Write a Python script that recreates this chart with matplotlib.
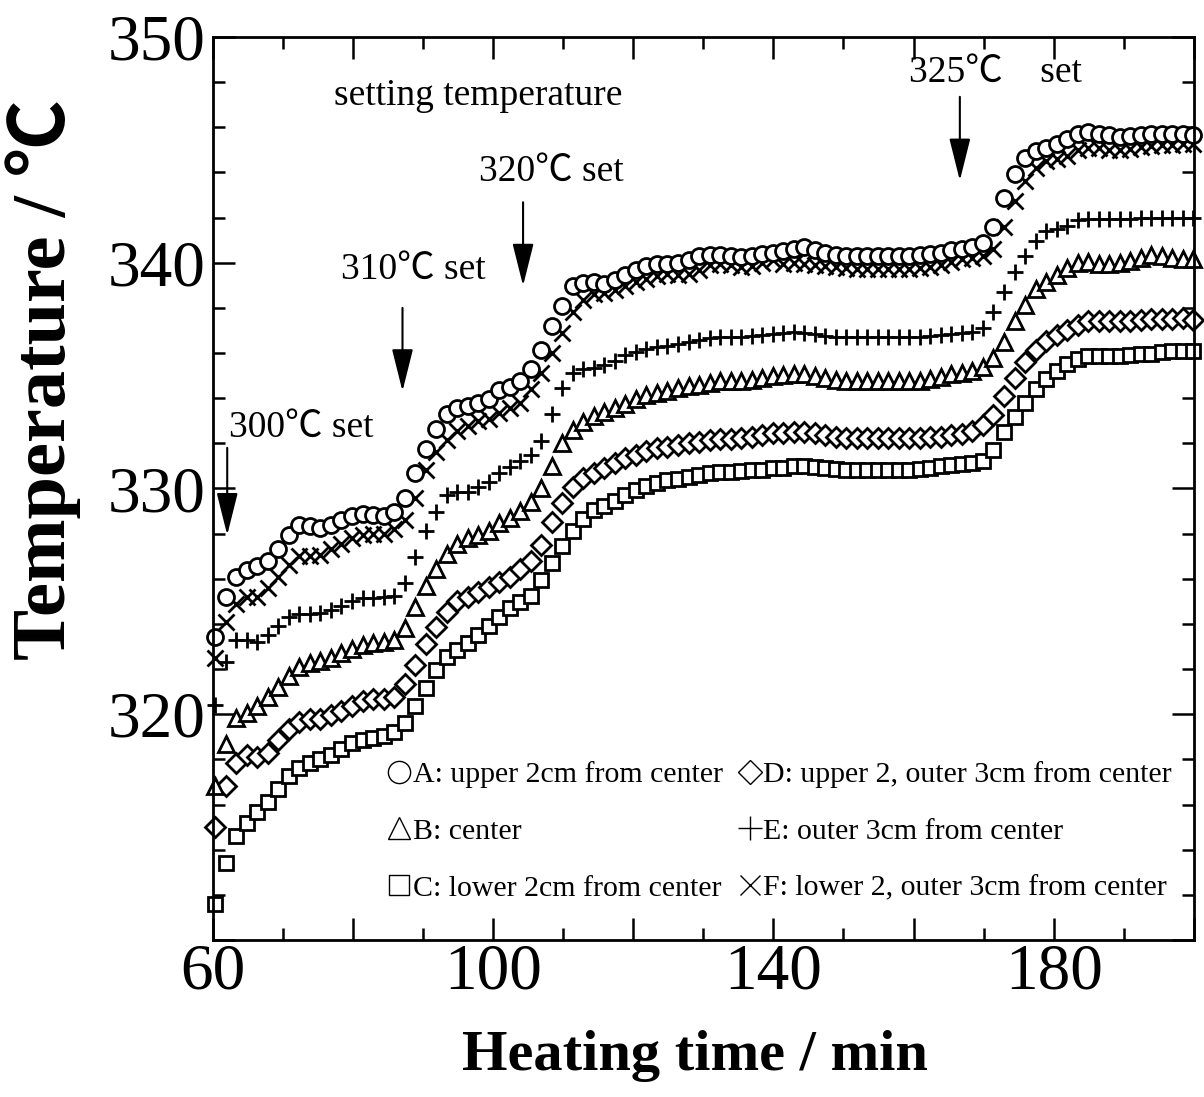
import matplotlib
matplotlib.use('Agg')
import matplotlib.pyplot as plt
from matplotlib.lines import Line2D
from matplotlib.ticker import MultipleLocator, FixedLocator, FixedFormatter

plt.rcParams['font.family'] = ['Liberation Serif', 'Noto Sans CJK JP']

# ---------------- data ----------------
time = [60.4, 61.9, 63.4, 64.9, 66.4, 67.9, 69.4, 70.9, 72.4, 73.9,
        75.4, 76.9, 78.4, 79.9, 81.4, 82.9, 84.4, 85.9, 87.4, 88.9,
        90.4, 91.9, 93.4, 94.9, 96.4, 97.9, 99.4, 100.9, 102.4, 103.9,
        105.4, 106.9, 108.4, 109.9, 111.4, 112.9, 114.4, 115.9, 117.4, 118.9,
        120.4, 121.9, 123.4, 124.9, 126.4, 127.9, 129.4, 130.9, 132.4, 133.9,
        135.4, 136.9, 138.4, 139.9, 141.4, 142.9, 144.4, 145.9, 147.4, 148.9,
        150.4, 151.9, 153.4, 154.9, 156.4, 157.9, 159.4, 160.9, 162.4, 163.9,
        165.4, 166.9, 168.4, 169.9, 171.4, 172.9, 174.4, 175.9, 177.4, 178.9,
        180.4, 181.9, 183.4, 184.9, 186.4, 187.9, 189.4, 190.9, 192.4, 193.9,
        195.4, 196.9, 198.4, 199.9]

A_upper = [323.4, 325.2, 326.1, 326.4, 326.55, 326.8, 327.3, 327.95, 328.4, 328.35,
           328.25, 328.4, 328.6, 328.8, 328.85, 328.82, 328.78, 328.97, 329.6, 330.7,
           331.75, 332.65, 333.3, 333.56, 333.64, 333.78, 333.95, 334.35, 334.5, 334.75,
           335.3, 336.15, 337.2, 338.1, 338.95, 339.12, 339.13, 339.08, 339.22, 339.45,
           339.7, 339.86, 339.94, 339.94, 340.0, 340.13, 340.3, 340.36, 340.36, 340.31,
           340.27, 340.31, 340.39, 340.45, 340.52, 340.62, 340.68, 340.58, 340.42, 340.33,
           340.31, 340.3, 340.3, 340.3, 340.3, 340.3, 340.32, 340.35, 340.4, 340.45,
           340.55, 340.62, 340.7, 340.88, 341.6, 342.85, 343.95, 344.65, 344.95, 345.1,
           345.27, 345.47, 345.7, 345.79, 345.7, 345.64, 345.57, 345.6, 345.64, 345.7,
           345.72, 345.72, 345.7, 345.65]

B_center = [316.8, 318.7, 319.85, 320.05, 320.35, 320.75, 321.2, 321.7, 322.1, 322.28,
            322.36, 322.5, 322.72, 322.9, 323.05, 323.15, 323.18, 323.3, 323.8, 324.75,
            325.7, 326.45, 327.1, 327.55, 327.8, 327.95, 328.1, 328.45, 328.7, 329.0,
            329.4, 330.0, 331.0, 332.0, 332.6, 332.95, 333.2, 333.38, 333.56, 333.75,
            333.95, 334.12, 334.25, 334.33, 334.46, 334.53, 334.6, 334.68, 334.75, 334.76,
            334.76, 334.82, 334.9, 334.97, 335.02, 335.05, 335.05, 335.0, 334.88, 334.8,
            334.76, 334.76, 334.76, 334.76, 334.76, 334.76, 334.76, 334.78, 334.85, 334.95,
            335.05, 335.12, 335.2, 335.38, 335.8, 336.5, 337.4, 338.15, 338.85, 339.15,
            339.45, 339.75, 339.98, 340.02, 339.96, 339.94, 340.0, 340.06, 340.22, 340.36,
            340.3, 340.2, 340.18, 340.16]

C_lower = [311.6, 313.4, 314.6, 315.2, 315.65, 316.1, 316.7, 317.25, 317.62, 317.85,
           318.0, 318.2, 318.45, 318.72, 318.88, 318.97, 319.05, 319.2, 319.6, 320.35,
           321.15, 321.95, 322.55, 322.85, 323.15, 323.5, 323.9, 324.3, 324.7, 324.98,
           325.25, 325.95, 326.68, 327.45, 328.1, 328.65, 329.05, 329.22, 329.45, 329.72,
           329.95, 330.1, 330.26, 330.37, 330.44, 330.52, 330.6, 330.67, 330.72, 330.75,
           330.78, 330.8, 330.83, 330.89, 330.93, 330.98, 330.98, 330.95, 330.9, 330.86,
           330.83, 330.83, 330.83, 330.83, 330.83, 330.83, 330.83, 330.86, 330.92, 330.98,
           331.05, 331.1, 331.15, 331.22, 331.72, 332.5, 333.15, 333.8, 334.4, 334.87,
           335.2, 335.5, 335.73, 335.86, 335.87, 335.87, 335.87, 335.9, 335.94, 335.98,
           336.05, 336.08, 336.09, 336.09]

D_upper_outer = [315.0, 316.8, 317.85, 318.2, 318.1, 318.3, 318.85, 319.35, 319.65, 319.78,
                 319.8, 319.95, 320.15, 320.38, 320.58, 320.67, 320.68, 320.78, 321.35, 322.2,
                 323.1, 323.85, 324.55, 325.0, 325.2, 325.4, 325.62, 325.85, 326.1, 326.42,
                 326.8, 327.5, 328.53, 329.35, 330.05, 330.45, 330.7, 330.93, 331.15, 331.33,
                 331.48, 331.64, 331.79, 331.86, 331.93, 332.0, 332.08, 332.15, 332.18, 332.2,
                 332.23, 332.28, 332.38, 332.45, 332.48, 332.5, 332.5, 332.45, 332.35, 332.27,
                 332.24, 332.24, 332.24, 332.24, 332.24, 332.24, 332.24, 332.25, 332.27, 332.3,
                 332.35, 332.42, 332.55, 332.8, 333.25, 334.1, 334.9, 335.6, 336.12, 336.55,
                 336.8, 337.0, 337.25, 337.42, 337.42, 337.4, 337.4, 337.42, 337.48, 337.52,
                 337.52, 337.5, 337.56, 337.45]

E_outer = [320.4, 322.3, 323.3, 323.3, 323.2, 323.5, 323.9, 324.3, 324.42, 324.44,
           324.48, 324.6, 324.8, 325.0, 325.15, 325.15, 325.2, 325.25, 325.8, 326.95,
           328.1, 328.95, 329.7, 329.84, 329.85, 330.05, 330.3, 330.7, 330.95, 331.2,
           331.5, 332.1, 333.3, 334.45, 335.1, 335.3, 335.35, 335.45, 335.65, 335.9,
           336.05, 336.18, 336.25, 336.32, 336.4, 336.5, 336.6, 336.68, 336.7, 336.7,
           336.7, 336.74, 336.8, 336.84, 336.9, 336.92, 336.9, 336.85, 336.75, 336.7,
           336.7, 336.7, 336.7, 336.7, 336.7, 336.7, 336.7, 336.72, 336.75, 336.8,
           336.85, 336.9, 336.95, 337.1, 337.8, 338.7, 339.6, 340.3, 340.95, 341.4,
           341.5, 341.62, 341.9, 341.95, 341.95, 341.95, 341.95, 341.95, 341.97, 342.0,
           342.0, 342.0, 342.0, 342.0]

F_lower_outer = [322.5, 324.1, 324.9, 325.2, 325.2, 325.6, 326.1, 326.6, 327.0, 327.0,
                 327.05, 327.3, 327.55, 327.8, 327.95, 328.0, 328.0, 328.2, 328.6, 329.6,
                 330.8, 331.6, 332.15, 332.55, 332.75, 333.0, 333.1, 333.35, 333.55, 333.8,
                 334.4, 335.1, 336.0, 336.9, 337.8, 338.35, 338.6, 338.68, 338.8, 338.95,
                 339.15, 339.3, 339.4, 339.5, 339.45, 339.5, 339.7, 339.9, 339.95, 339.9,
                 339.82, 339.85, 339.98, 340.1, 339.95, 340.0, 339.95, 339.9, 339.85, 339.8,
                 339.75, 339.72, 339.72, 339.72, 339.72, 339.72, 339.72, 339.75, 339.8, 339.9,
                 340.05, 340.15, 340.2, 340.3, 340.6, 341.6, 342.75, 343.6, 344.2, 344.5,
                 344.6, 344.75, 345.0, 345.1, 345.1, 345.0, 344.98, 345.05, 345.12, 345.15,
                 345.2, 345.22, 345.25, 345.27]

labels = ['A: upper 2cm from center', 'B: center', 'C: lower 2cm from center',
          'D: upper 2, outer 3cm from center', 'E: outer 3cm from center',
          'F: lower 2, outer 3cm from center']

x_ticks_major = [60, 80, 100, 120, 140, 160, 180, 200]
x_tick_labels = ['60', '', '100', '', '140', '', '180', '']
y_ticks_major = [310, 320, 330, 340, 350]
y_tick_labels = ['', '320', '330', '340', '350']

# annotations: (label, x, y) and arrows: (x, y_tail, y_tip)
notes = [('setting temperature', 77.4, 346.98),
         ('300℃ set', 62.35, 332.27),
         ('310℃ set', 78.4, 339.27),
         ('320℃ set', 98.0, 343.64),
         ('325℃    set', 159.3, 348.01)]
arrows = [(62.1, 331.8, 327.94),
          (87.1, 338.0, 334.31),
          (104.3, 342.68, 338.98),
          (166.6, 347.35, 343.64)]

# ---------------- figure ----------------
fig = plt.figure(figsize=(12.04, 10.97), dpi=100)
ax = fig.add_axes([212.5 / 1204, 1 - 940 / 1097, (1194 - 212.5) / 1204, (940 - 37) / 1097])

common = dict(ls='none', mec='k', mfc='white', mew=2.0, clip_on=False)
series = [
    (F_lower_outer, 'x', 11.5),
    (E_outer, '+', 11.5),
    (D_upper_outer, 'D', 10.5),
    (C_lower, 's', 10.5),
    (B_center, '^', 11.5),
    (A_upper, 'o', 11.5),
]
for vals, m, ms in series:
    ax.plot(time, vals, marker=m, ms=ms, **common)

ax.set_xlim(60, 200)
ax.set_ylim(310, 350)

ax.xaxis.set_major_locator(FixedLocator(x_ticks_major))
ax.xaxis.set_major_formatter(FixedFormatter(x_tick_labels))
ax.xaxis.set_minor_locator(MultipleLocator(10))
ax.yaxis.set_major_locator(FixedLocator(y_ticks_major))
ax.yaxis.set_major_formatter(FixedFormatter(y_tick_labels))
ax.yaxis.set_minor_locator(MultipleLocator(2))

ax.tick_params(which='both', direction='in', top=True, right=True, width=1.8)
ax.tick_params(which='major', length=16, labelsize=47)
ax.tick_params(which='minor', length=8.5)
ax.tick_params(axis='x', which='major', pad=2)
ax.tick_params(axis='y', which='major', pad=5)
for sp in ax.spines.values():
    sp.set_linewidth(2.0)

ax.set_xlabel('Heating time / min', fontsize=42, fontweight='bold')
ax.xaxis.set_label_coords(0.492, -0.100)
ax.set_ylabel('Temperature / ℃', fontsize=55, fontweight='bold')
ax.yaxis.set_label_coords(-0.134, 0.62)

for txt, x, y in notes:
    ax.text(x, y, txt, fontsize=27, va='baseline', ha='left')
for x, y0, y1 in arrows:
    ax.annotate('', xy=(x, y1), xytext=(x, y0),
                arrowprops=dict(arrowstyle='-|>,head_length=0.8,head_width=0.2',
                                lw=1.5, color='k', mutation_scale=33,
                                shrinkA=0, shrinkB=0))

# legend (two columns)
markers = ['o', '^', 's', 'D', '+', 'x']
sizes = [16, 16, 15, 12, 17, 14]
handles = [Line2D([], [], ls='none', marker=m, ms=s, mfc='white', mec='k', mew=1.0)
           for m, s in zip(markers, sizes)]
leg_kw = dict(frameon=False, fontsize=21.5, loc='upper left', borderpad=0, borderaxespad=0,
              handlelength=0.8, handletextpad=0.05, labelspacing=1.0, numpoints=1)
leg1 = ax.legend(handles[:3], labels[:3], bbox_to_anchor=(0.178, 0.198), **leg_kw)
ax.add_artist(leg1)
ax.legend(handles[3:], labels[3:], bbox_to_anchor=(0.535, 0.198), **leg_kw)

fig.savefig('out.png', dpi=100)
